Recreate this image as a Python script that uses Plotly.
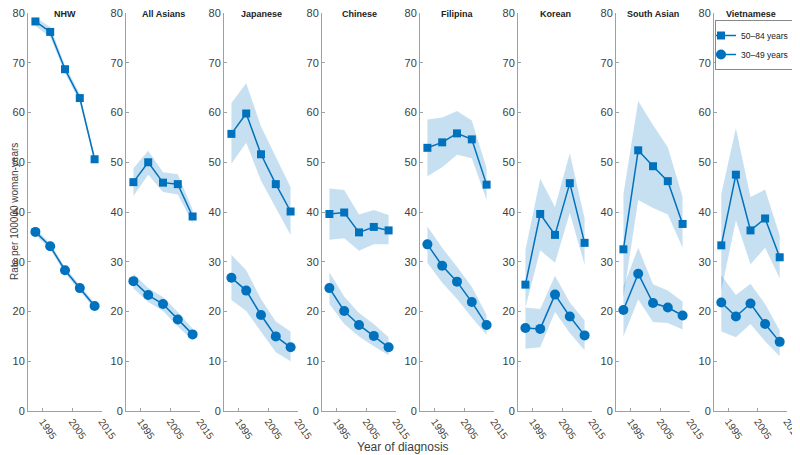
import plotly.graph_objects as go

# data
years = [1992.5, 1997.5, 2002.5, 2007.5, 2012.5]
groups = ["NHW", "All Asians", "Japanese", "Chinese", "Filipina", "Korean", "South Asian", "Vietnamese"]

old_rate = {
    "NHW":         [78.3, 76.2, 68.7, 62.9, 50.6],
    "All Asians":  [46.0, 50.0, 45.9, 45.6, 39.1],
    "Japanese":    [55.7, 59.8, 51.6, 45.6, 40.1],
    "Chinese":     [39.6, 39.9, 35.9, 37.0, 36.3],
    "Filipina":    [52.9, 54.0, 55.8, 54.6, 45.5],
    "Korean":      [25.4, 39.6, 35.4, 45.8, 33.8],
    "South Asian": [32.5, 52.4, 49.2, 46.2, 37.6],
    "Vietnamese":  [33.3, 47.5, 36.3, 38.7, 30.9],
}
old_hi = {
    "NHW":         [79.2, 77.2, 69.5, 63.7, 51.3],
    "All Asians":  [48.8, 52.3, 48.0, 47.6, 40.5],
    "Japanese":    [61.9, 65.9, 57.2, 51.0, 45.0],
    "Chinese":     [44.7, 44.4, 39.5, 40.4, 39.4],
    "Filipina":    [58.6, 59.0, 60.3, 58.4, 48.8],
    "Korean":      [32.3, 46.7, 41.0, 51.8, 38.7],
    "South Asian": [43.5, 62.3, 57.5, 53.0, 43.0],
    "Vietnamese":  [43.6, 56.9, 43.0, 44.5, 35.3],
}
old_lo = {
    "NHW":         [77.4, 75.2, 67.9, 62.1, 49.9],
    "All Asians":  [43.2, 47.5, 44.0, 43.5, 37.8],
    "Japanese":    [49.7, 53.9, 46.3, 41.0, 35.4],
    "Chinese":     [34.4, 34.7, 32.2, 33.5, 33.5],
    "Filipina":    [47.2, 49.0, 51.5, 50.8, 42.4],
    "Korean":      [20.8, 32.3, 29.8, 39.8, 29.4],
    "South Asian": [22.8, 42.4, 40.8, 39.5, 32.8],
    "Vietnamese":  [24.2, 38.3, 29.5, 32.8, 26.7],
}
young_rate = {
    "NHW":         [36.0, 33.1, 28.3, 24.7, 21.1],
    "All Asians":  [26.1, 23.3, 21.5, 18.4, 15.4],
    "Japanese":    [26.8, 24.2, 19.3, 15.0, 12.8],
    "Chinese":     [24.7, 20.1, 17.3, 15.1, 12.8],
    "Filipina":    [33.5, 29.2, 26.0, 21.9, 17.3],
    "Korean":      [16.7, 16.5, 23.4, 19.0, 15.2],
    "South Asian": [20.3, 27.6, 21.7, 20.8, 19.2],
    "Vietnamese":  [21.8, 19.0, 21.6, 17.5, 13.9],
}
young_hi = {
    "NHW":         [36.6, 33.7, 28.9, 25.3, 21.7],
    "All Asians":  [27.6, 24.7, 22.9, 19.9, 16.6],
    "Japanese":    [31.4, 28.3, 22.5, 18.0, 16.0],
    "Chinese":     [27.9, 23.0, 19.7, 17.5, 14.8],
    "Filipina":    [37.1, 32.8, 29.0, 25.0, 19.3],
    "Korean":      [20.8, 20.5, 27.2, 21.8, 18.2],
    "South Asian": [25.0, 32.8, 25.5, 24.2, 22.0],
    "Vietnamese":  [27.3, 23.3, 25.6, 21.5, 16.2],
}
young_lo = {
    "NHW":         [35.4, 32.5, 27.7, 24.1, 20.5],
    "All Asians":  [24.6, 21.9, 20.1, 17.0, 14.2],
    "Japanese":    [22.3, 20.1, 15.9, 11.8, 10.0],
    "Chinese":     [21.5, 17.5, 15.0, 13.0, 11.2],
    "Filipina":    [29.8, 25.8, 22.5, 18.8, 15.3],
    "Korean":      [12.5, 12.8, 19.9, 15.7, 12.2],
    "South Asian": [15.0, 22.4, 17.9, 17.7, 16.4],
    "Vietnamese":  [16.0, 14.8, 17.5, 14.0, 11.0],
}

BLUE = "#0072BD"
FILL = "rgba(0,114,189,0.22)"
AXIS = "#a0a0a0"
TXT = "#404040"

fig = go.Figure()

# the page body has an 8px margin, so the figure is 792x447
W, H, L, R, T, B = 792, 447, 20, 13, 5, 44
plot_w = W - L - R
plot_h = H - T - B
panel_w, gap = 74, 24

for i, g in enumerate(groups):
    xa = "x" if i == 0 else f"x{i+1}"
    ya = "y" if i == 0 else f"y{i+1}"
    for rate, hi, lo, sym, size, name in [
        (old_rate, old_hi, old_lo, "square", 8, "50\u201384 years"),
        (young_rate, young_hi, young_lo, "circle", 10, "30\u201349 years"),
    ]:
        fig.add_trace(go.Scatter(
            x=years + years[::-1], y=hi[g] + lo[g][::-1],
            fill="toself", fillcolor=FILL, line=dict(width=0),
            mode="lines", hoverinfo="skip", showlegend=False,
            xaxis=xa, yaxis=ya))
        fig.add_trace(go.Scatter(
            x=years, y=rate[g], mode="lines+markers", name=name,
            line=dict(color=BLUE, width=1.5),
            marker=dict(symbol=sym, size=size, color=BLUE),
            showlegend=(i == 0), xaxis=xa, yaxis=ya))

    x0 = (i * (panel_w + gap)) / plot_w
    x1 = min((i * (panel_w + gap) + panel_w) / plot_w, 1)
    axkey = "xaxis" if i == 0 else f"xaxis{i+1}"
    aykey = "yaxis" if i == 0 else f"yaxis{i+1}"
    fig.layout[axkey] = dict(
        domain=[x0, x1], range=[1990, 2015], anchor=ya,
        tickvals=[1995, 2005, 2015], tickangle=55,
        showline=True, linecolor=AXIS, linewidth=1,
        ticks="inside", ticklen=3, tickcolor=AXIS,
        showgrid=False, zeroline=False, automargin=False,
        ticklabeloverflow="allow",
        tickfont=dict(size=10, color=TXT))
    fig.layout[aykey] = dict(
        domain=[0, 1], range=[0, 80], anchor=xa, dtick=10,
        showline=True, linecolor=AXIS, linewidth=1,
        ticks="inside", ticklen=3, tickcolor=AXIS,
        showgrid=False, zeroline=False, automargin=False,
        ticklabeloverflow="allow",
        tickfont=dict(size=11, color=TXT))
    fig.add_annotation(
        x=(x0 + x1) / 2, y=1, xref="paper", yref="paper",
        xanchor="center", yanchor="top", yshift=T + 1,
        text=f"<b>{g}</b>", showarrow=False,
        font=dict(size=9, color="#222"))

fig.add_annotation(
    x=-14 / plot_w, y=0.5, xref="paper", yref="paper",
    xanchor="center", yanchor="middle",
    text="Rate per 100000 woman-years", textangle=-90,
    showarrow=False, font=dict(size=10, color=TXT))
fig.add_annotation(
    x=(403 - 8 - L) / plot_w, y=-36 / plot_h, xref="paper", yref="paper",
    xanchor="center", yanchor="middle",
    text="Year of diagnosis", showarrow=False,
    font=dict(size=12, color=TXT))

fig.update_layout(
    width=W, height=H,
    margin=dict(l=L, r=R, t=T, b=B, autoexpand=False),
    plot_bgcolor="white", paper_bgcolor="white",
    font=dict(family="Liberation Sans, Arial, sans-serif"),
    legend=dict(x=(715 - 8) / W, y=1 - (20 - 8) / H,
                xref="container", yref="container",
                xanchor="left", yanchor="top",
                bordercolor="#888", borderwidth=1, bgcolor="white",
                font=dict(size=8.5, color="#222"),
                tracegroupgap=0, itemwidth=30, indentation=-15),
)

fig.write_html("out.html")
